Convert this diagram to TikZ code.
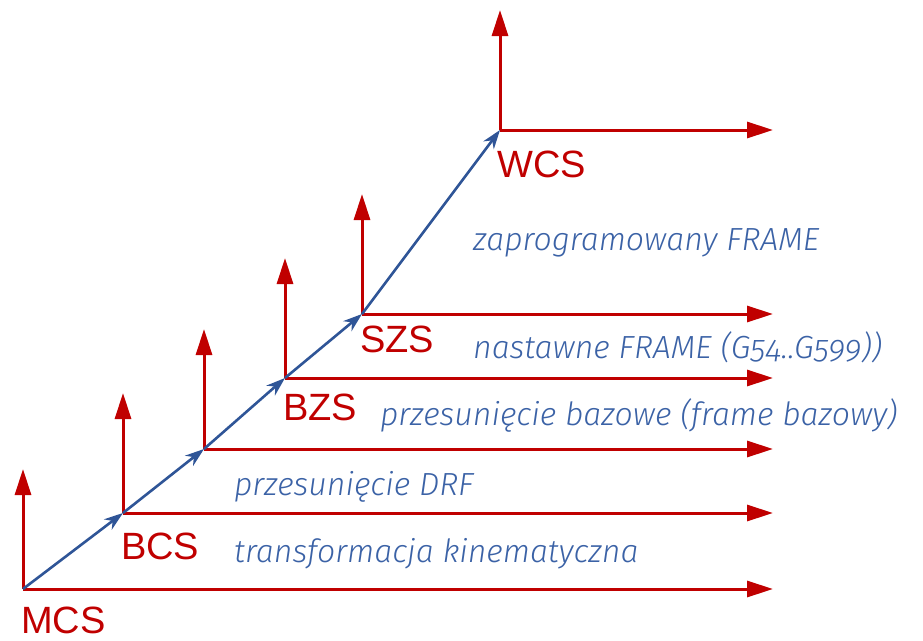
\documentclass[tikz,border=0pt]{standalone}
\usepackage{fontspec}
\setmainfont{Liberation Sans}
\newfontfamily\notefont{Fira Sans Light}[Numbers=OldStyle]
\usetikzlibrary{arrows.meta}
\definecolor{axisred}{HTML}{C00000}
\definecolor{pathblue}{HTML}{2F5597}
\definecolor{noteblue}{HTML}{3B62A6}
\begin{document}
\begin{tikzpicture}[x=1pt,y=-1pt,
  axis/.style={draw=axisred, line width=3pt, -{Triangle[length=26pt,width=16pt]}},
  chain/.style={draw=pathblue, line width=2.6pt, -{Stealth[length=19pt,width=13pt,inset=6pt]}},
  frame label/.style={text=axisred, font=\fontsize{38}{40}\selectfont, inner sep=0pt, anchor=base west},
  note/.style={text=noteblue, font=\notefont\itshape\fontsize{32}{36}\selectfont, inner sep=0pt, anchor=base west}]
\useasboundingbox (0,0) rectangle (923,640);

% origins of the coordinate frames, with the tips of their axes
\foreach \n/\x/\y in {mcs/23/589, bcs/123/513, drf/204/449, bzs/285/378, szs/362/314, wcs/500/130} {
  \coordinate (\n) at (\x,\y);
  \coordinate (\n-up) at (\x,\y-120);
  \coordinate (\n-right) at (773,\y);
}

% frame axes
\foreach \n in {mcs,bcs,drf,bzs,szs,wcs} {
  \draw[axis] (\n) -- (\n-up);
  \draw[axis] (\n) -- (\n-right);
}

% chain of transformations
\draw[chain] (mcs) -- (bcs);
\draw[chain] (bcs) -- (drf);
\draw[chain] (drf) -- (bzs);
\draw[chain] (bzs) -- (szs);
\draw[chain] (szs) -- (wcs);

% frame names
\node[frame label] (l-mcs) at (21,633) {MCS};
\node[frame label] (l-bcs) at (121,559) {BCS};
\node[frame label] (l-bzs) at (283,420) {BZS};
\node[frame label] (l-szs) at (360,352) {SZS};
\node[frame label] (l-wcs) at (497,177) {WCS};

% transformation descriptions
\node[note] (n-kin) at (234,562) {transformacja kinematyczna};
\node[note] (n-drf) at (234,495) {przesunięcie DRF};
\node[note] (n-base) at (380,425) {przesunięcie bazowe (frame bazowy)};
\node[note] (n-set) at (473,358) {nastawne FRAME (G54..G599))};
\node[note] (n-prog) at (473,250) {zaprogramowany FRAME};
\end{tikzpicture}
\end{document}
